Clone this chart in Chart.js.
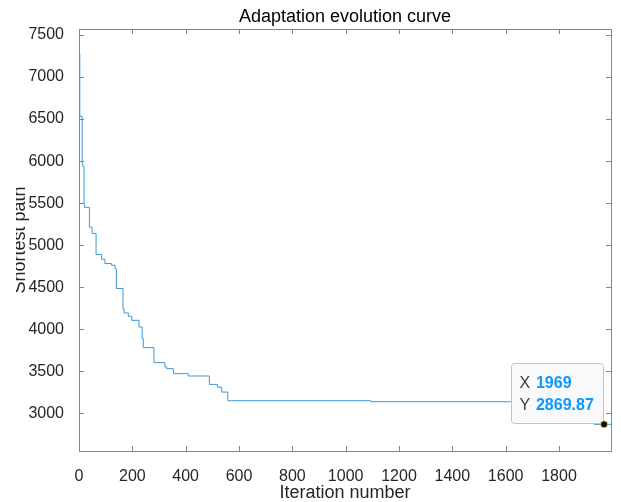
<!DOCTYPE html>
<html>
<head>
<meta charset="utf-8">
<script src="https://cdn.jsdelivr.net/npm/chart.js@4/dist/chart.umd.min.js"></script>
<style>html,body{margin:0;padding:0;background:#fff}</style>
</head>
<body>
<canvas id="curve" width="621" height="502"></canvas>
<script>
// iteration at which the best path changes, and the new best length
var iterations = [1, 3, 4, 12, 14, 19, 21, 39, 49, 64, 85, 97, 122, 135, 140, 165, 169, 185, 198, 225, 237, 241, 281, 322, 329, 354, 410, 489, 519, 535, 558, 1094, 1932, 1995];
var pathLengths = [7274, 6545, 6530, 5960, 5940, 5480, 5450, 5215, 5140, 4889, 4833, 4782, 4762, 4722, 4485, 4243, 4194, 4155, 4107, 4027, 3889, 3782, 3604, 3551, 3532, 3473, 3445, 3345, 3313, 3254, 3151, 3139, 2869.87, 2869.87];
var xTicks = [0, 200, 400, 600, 800, 1000, 1200, 1400, 1600, 1800];
var yTicks = [3000, 3500, 4000, 4500, 5000, 5500, 6000, 6500, 7000, 7500];
var tipX = 1969;
var tipY = 2869.87;

Chart.defaults.font.family = '"Liberation Sans", Arial, Helvetica, sans-serif';

var points = iterations.map(function (it, i) { return { x: it, y: pathLengths[i] }; });

var axesColor = '#858585';

var matlabAxes = {
  id: 'matlabAxes',
  afterDraw: function (chart) {
    var ctx = chart.ctx, a = chart.chartArea;
    var xs = chart.scales.x, ys = chart.scales.y;
    ctx.save();
    ctx.strokeStyle = axesColor;
    ctx.lineWidth = 1;
    ctx.strokeRect(Math.round(a.left) + 0.5, Math.round(a.top) + 0.5, Math.round(a.right - a.left), Math.round(a.bottom - a.top));
    ctx.beginPath();
    xTicks.forEach(function (v) {
      var px = Math.round(xs.getPixelForValue(v)) + 0.5;
      ctx.moveTo(px, a.bottom); ctx.lineTo(px, a.bottom - 5);
      ctx.moveTo(px, a.top); ctx.lineTo(px, a.top + 5);
    });
    yTicks.forEach(function (v) {
      var py = Math.round(ys.getPixelForValue(v)) + 0.5;
      ctx.moveTo(a.left, py); ctx.lineTo(a.left + 5, py);
      ctx.moveTo(a.right, py); ctx.lineTo(a.right - 5, py);
    });
    ctx.stroke();
    ctx.restore();

    // y label, cut off on the left as in the original figure
    ctx.save();
    ctx.beginPath();
    ctx.rect(16, 0, chart.width, chart.height);
    ctx.clip();
    ctx.translate(24.5, (a.top + a.bottom) / 2);
    ctx.rotate(-Math.PI / 2);
    ctx.font = '18px ' + Chart.defaults.font.family;
    ctx.fillStyle = '#262626';
    ctx.textAlign = 'center';
    ctx.textBaseline = 'alphabetic';
    ctx.fillText('Shortest path', 0, 0);
    ctx.restore();

    // data tip
    var px = xs.getPixelForValue(tipX), py = ys.getPixelForValue(tipY);
    var bw = 92, bh = 60, br = px - 0.6, bb = py - 1;
    ctx.save();
    ctx.beginPath();
    ctx.roundRect(Math.round(br - bw) + 0.5, Math.round(bb - bh) + 0.5, bw, bh, 3);
    ctx.fillStyle = '#f9f9fc';
    ctx.fill();
    ctx.strokeStyle = '#c4c4c8';
    ctx.lineWidth = 1;
    ctx.stroke();
    ctx.textBaseline = 'middle';
    ctx.textAlign = 'left';
    var lx = br - bw + 8, vx = br - bw + 24.5;
    ctx.font = '16px ' + Chart.defaults.font.family;
    ctx.fillStyle = '#404040';
    ctx.fillText('X', lx, bb - bh + 20);
    ctx.fillText('Y', lx, bb - bh + 42);
    ctx.font = 'bold 16px ' + Chart.defaults.font.family;
    ctx.fillStyle = '#0a99ff';
    ctx.fillText(String(tipX), vx, bb - bh + 20);
    ctx.fillText(String(tipY), vx, bb - bh + 42);
    ctx.beginPath();
    ctx.arc(px, py, 3.6, 0, Math.PI * 2);
    ctx.fillStyle = '#111';
    ctx.fill();
    ctx.strokeStyle = '#e6dc5a';
    ctx.lineWidth = 1;
    ctx.stroke();
    ctx.restore();
  }
};

function plainNumber(v) { return String(v); }

new Chart(document.getElementById('curve'), {
  type: 'line',
  data: {
    datasets: [{
      data: points,
      borderColor: '#3d98d6',
      borderWidth: 1,
      pointRadius: 0,
      stepped: 'before',
      fill: false
    }]
  },
  options: {
    responsive: false,
    animation: false,
    events: [],
    layout: { padding: { left: 0, right: 10, top: 0, bottom: 0 } },
    plugins: {
      legend: { display: false },
      tooltip: { enabled: false },
      title: {
        display: true,
        text: 'Adaptation evolution curve',
        fullSize: false,
        color: '#000',
        font: { size: 18, weight: 'normal' },
        padding: { top: 6, bottom: 1.4 }
      }
    },
    scales: {
      x: {
        type: 'linear',
        min: 0,
        max: 1995,
        afterBuildTicks: function (s) { s.ticks = xTicks.map(function (v) { return { value: v }; }); },
        afterFit: function (s) { s.height = 51; },
        grid: { display: false },
        border: { display: false },
        ticks: { color: '#262626', font: { size: 16 }, padding: 8, maxRotation: 0, autoSkip: false, callback: plainNumber },
        title: { display: true, text: 'Iteration number', color: '#262626', font: { size: 18 }, padding: { top: 0, bottom: -2 } }
      },
      y: {
        type: 'linear',
        min: 2553,
        max: 7571,
        afterBuildTicks: function (s) { s.ticks = yTicks.map(function (v) { return { value: v }; }); },
        afterFit: function (s) { s.width = 79; },
        grid: { display: false },
        border: { display: false },
        ticks: { color: '#262626', font: { size: 16 }, padding: 7, autoSkip: false, callback: plainNumber }
      }
    }
  },
  plugins: [matlabAxes]
});
</script>
</body>
</html>
